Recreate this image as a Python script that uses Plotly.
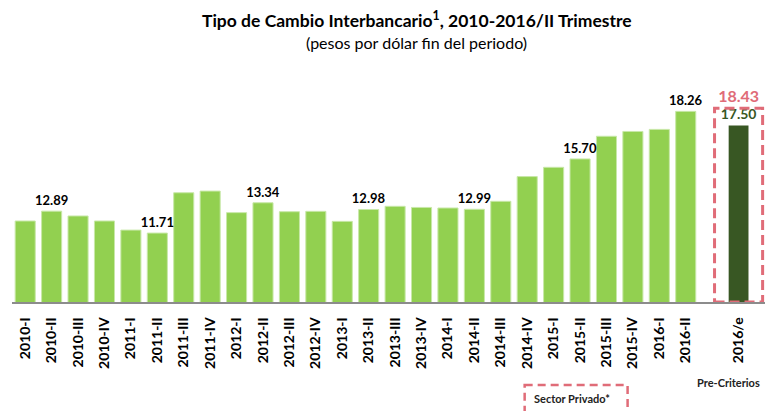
import plotly.graph_objects as go

# ---- data ----
periods = ["2010-I", "2010-II", "2010-III", "2010-IV",
           "2011-I", "2011-II", "2011-III", "2011-IV",
           "2012-I", "2012-II", "2012-III", "2012-IV",
           "2013-I", "2013-II", "2013-III", "2013-IV",
           "2014-I", "2014-II", "2014-III", "2014-IV",
           "2015-I", "2015-II", "2015-III", "2015-IV",
           "2016-I", "2016-II"]
rates = [12.36, 12.89, 12.63, 12.36,
         11.87, 11.71, 13.88, 13.97,
         12.81, 13.34, 12.86, 12.88,
         12.34, 12.98, 13.15, 13.09,
         13.06, 12.99, 13.42, 14.75,
         15.25, 15.70, 16.92, 17.18,
         17.29, 18.26]
labelled = ["2010-II", "2011-II", "2012-II", "2013-II", "2014-II", "2015-II", "2016-II"]

forecast_label = "2016/e"
precriterios_value = 17.50   # Pre-Criterios
privado_value = 18.43        # Sector Privado*

gap_label = " "
categories = periods + [gap_label, forecast_label]
tick_labels = periods + [forecast_label]

LIGHT = "#92D050"
DARK = "#385723"
RED = "#E06C78"
FONT = "Lato"

fig = go.Figure()

lab_x = [p for p in periods if p in labelled]
lab_y = [v for p, v in zip(periods, rates) if p in labelled]
unl_x = [p for p in periods if p not in labelled]
unl_y = [v for p, v in zip(periods, rates) if p not in labelled]

bar_marker = dict(color=LIGHT, line=dict(color="#c8e8a8", width=1))

fig.add_trace(go.Bar(
    x=unl_x, y=unl_y, width=0.76, marker=bar_marker,
    hoverinfo="x+y", showlegend=False,
))
fig.add_trace(go.Bar(
    x=lab_x, y=lab_y, width=0.76, marker=bar_marker,
    text=[f"{v:.2f}" for v in lab_y],
    textposition="outside", constraintext="none", cliponaxis=False,
    textfont=dict(family=FONT, size=13, color="black", weight="bold"),
    hoverinfo="x+y", showlegend=False,
))

# private sector estimate: transparent bar carrying its label
fig.add_trace(go.Bar(
    x=[forecast_label], y=[privado_value], width=1.82,
    marker=dict(color="rgba(0,0,0,0)", line=dict(width=0)),
    text=[f"{privado_value:.2f}"], textposition="outside",
    constraintext="none", cliponaxis=False,
    textfont=dict(family=FONT, size=16, color=RED, weight="bold"),
    showlegend=False,
))

fig.add_trace(go.Bar(
    x=[forecast_label], y=[precriterios_value], width=0.75,
    marker=dict(color=DARK, line=dict(width=0)),
    text=[f"{precriterios_value:.2f}"], textposition="outside",
    constraintext="none", cliponaxis=False,
    textfont=dict(family=FONT, size=14, color=DARK, weight="bold"),
    showlegend=False,
))

ymin = 8.0
fc_idx = categories.index(forecast_label)
fig.add_shape(type="rect", xref="x", yref="y",
              x0=fc_idx - 0.91, x1=fc_idx + 0.91, y0=ymin, y1=privado_value,
              line=dict(color=RED, width=3, dash="10px,5px"),
              fillcolor="rgba(0,0,0,0)", layer="above")

PW, PH, L, B = 753.5, 212, 12, 302

# Sector Privado* legend box
fig.add_shape(type="rect", xref="paper", yref="paper",
              x0=(525 - L) / PW, x1=(628 - L) / PW,
              y0=-(385 - B) / PH, y1=-(420 - B) / PH,
              line=dict(color=RED, width=2.5, dash="8px,5px"),
              fillcolor="rgba(0,0,0,0)")

fig.add_annotation(xref="paper", yref="paper",
                   x=(572 - L) / PW, y=-(398 - B) / PH,
                   text="Sector Privado*", showarrow=False,
                   font=dict(family=FONT, size=11, color="#222", weight="bold"),
                   xanchor="center", yanchor="middle")

fig.add_annotation(xref="paper", yref="paper",
                   x=(729 - L) / PW, y=-(382 - B) / PH,
                   text="Pre-Criterios", showarrow=False,
                   font=dict(family=FONT, size=11, color="#222", weight="bold"),
                   xanchor="center", yanchor="middle")

# Titles
fig.add_annotation(xref="paper", yref="paper",
                   x=(417 - L) / PW, y=(B - 20) / PH,
                   text="Tipo de Cambio Interbancario<sup>1</sup>, 2010-2016/II Trimestre",
                   showarrow=False,
                   font=dict(family=FONT, size=17.5, color="black", weight="bold"),
                   xanchor="center", yanchor="middle")
fig.add_annotation(xref="paper", yref="paper",
                   x=(417 - L) / PW, y=(B - 42) / PH,
                   text="(pesos por dólar fin del periodo)",
                   showarrow=False,
                   font=dict(family=FONT, size=16, color="black"),
                   xanchor="center", yanchor="middle")

fig.update_layout(
    width=769, height=411,
    margin=dict(l=12, r=4, t=90, b=109),
    paper_bgcolor="white", plot_bgcolor="white",
    barmode="overlay", showlegend=False,
    xaxis=dict(type="category", categoryorder="array", categoryarray=categories,
               tickmode="array", tickvals=tick_labels, ticktext=tick_labels,
               range=[-0.5, 28.0], tickangle=-90,
               tickfont=dict(family=FONT, size=14, color="black", weight="bold"),
               showline=True, linecolor="#8c8c8c", linewidth=1.5,
               ticks="outside", ticklen=8, tickcolor="rgba(0,0,0,0)",
               showgrid=False, zeroline=False, fixedrange=True),
    yaxis=dict(range=[ymin, ymin + PH / 18.58], visible=False,
               showgrid=False, zeroline=False, fixedrange=True),
)

fig.write_html("out.html", config={"displayModeBar": False},
               post_script="document.body.style.margin='0';document.body.style.padding='0';")
